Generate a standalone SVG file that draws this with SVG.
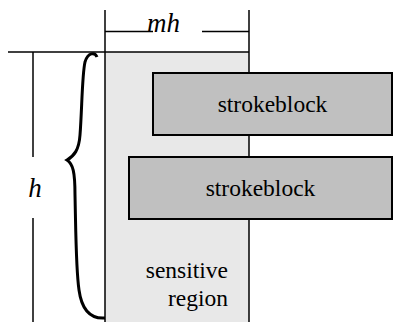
<svg xmlns="http://www.w3.org/2000/svg" width="393" height="322" viewBox="0 0 393 322">
<style>
.ln{stroke:#000;stroke-width:1.5;fill:none}
.blk{fill:#c0c0c0;stroke:#000;stroke-width:2}
.t{font-family:'Liberation Serif','Times New Roman',serif;font-size:23.5px;fill:#000}
.it{font-style:italic;font-size:27px}
</style>
<rect x="105" y="52" width="144" height="270" fill="#e8e8e8"/>
<g id="dimensions">
<line class="ln" x1="105" y1="10" x2="105" y2="322"/>
<line class="ln" x1="249" y1="10" x2="249" y2="322"/>
<line class="ln" x1="8" y1="52" x2="249" y2="52"/>
<line class="ln" x1="105" y1="31.5" x2="153" y2="31.5"/>
<line class="ln" x1="202" y1="31.5" x2="249" y2="31.5"/>
<line class="ln" x1="33" y1="52" x2="33" y2="157"/>
<line class="ln" x1="33" y1="218" x2="33" y2="322"/>
<text class="t it" x="147" y="31.5">mh</text>
<text class="t it" x="35" y="197" text-anchor="middle">h</text>
<path d="M97,57 C95,52 88,52 85,62 C82,75 82,110 80,135 C79,150 74,156 67,160 C73,164 75,172 75,195 C76,240 76,270 79,290 C82,312 92,319 105,318" stroke="#000" stroke-width="3" fill="none"/>
</g>
<g id="block1">
<rect class="blk" x="153" y="73" width="239" height="62"/>
<text class="t" x="272.5" y="112" text-anchor="middle">strokeblock</text>
</g>
<g id="block2">
<rect class="blk" x="129" y="157" width="263" height="62"/>
<text class="t" x="260.5" y="196" text-anchor="middle">strokeblock</text>
</g>
<g id="region">
<text class="t" x="228" y="278" text-anchor="end">sensitive</text>
<text class="t" x="228" y="306" text-anchor="end">region</text>
</g>
<g id="connectors"></g>
</svg>
